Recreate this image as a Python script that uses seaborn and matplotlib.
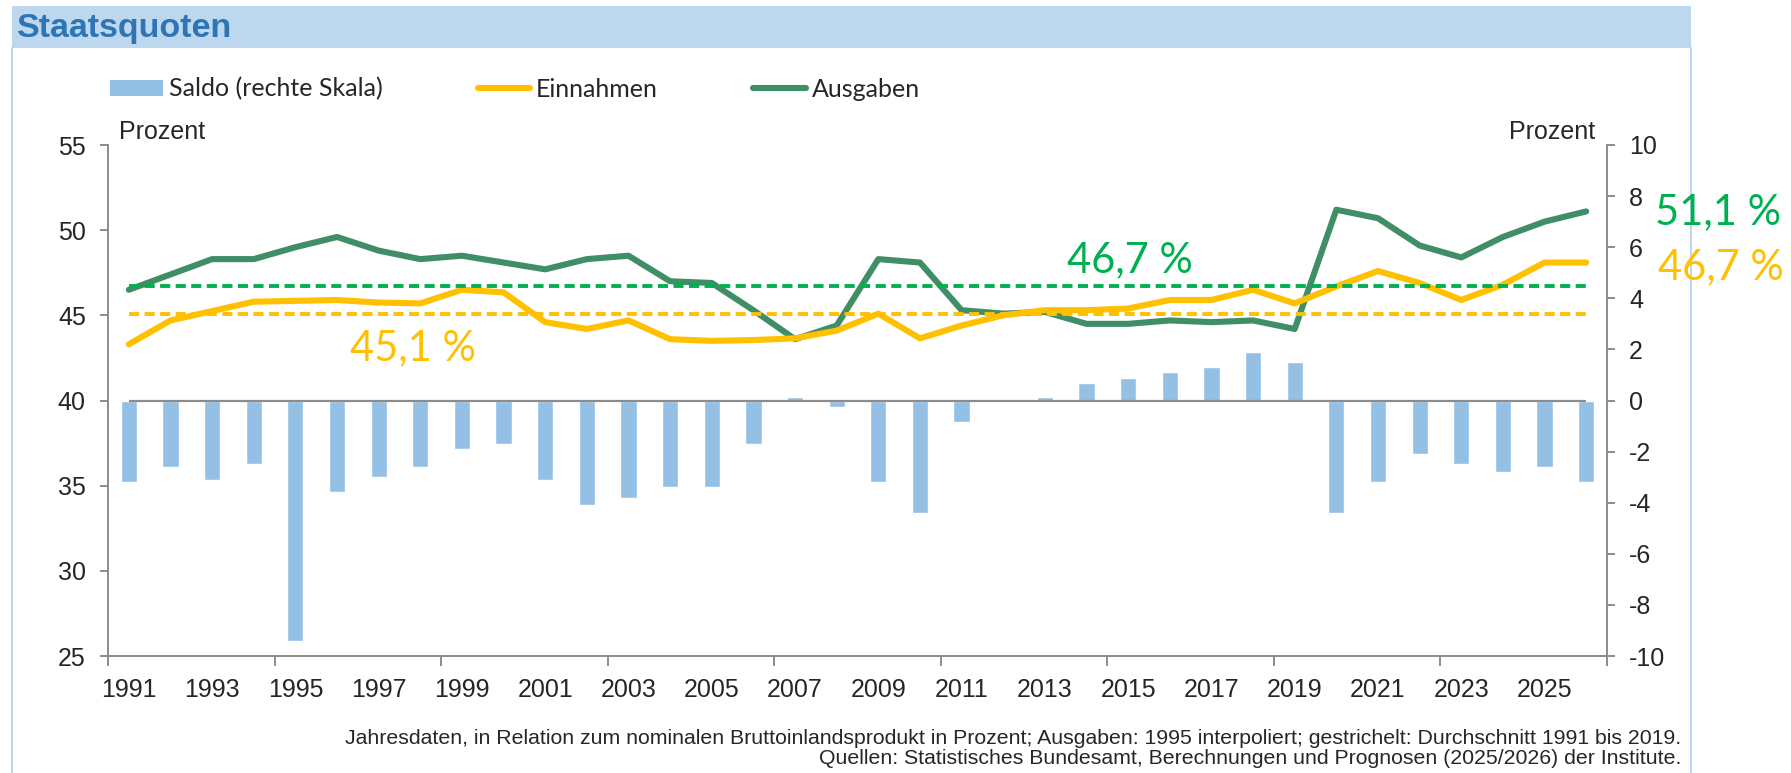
import numpy as np
import matplotlib
matplotlib.use("Agg")
import matplotlib.pyplot as plt
from matplotlib.lines import Line2D
from matplotlib.patches import Rectangle, Patch
import seaborn as sns

# Daten
years = list(range(1991, 2027))
einnahmen = [43.3, 44.7, 45.25, 45.8, 45.85, 45.9, 45.75, 45.7, 46.5, 46.35,
             44.6, 44.2, 44.7, 43.6, 43.5, 43.55, 43.65, 44.1, 45.1, 43.65,
             44.4, 45.0, 45.3, 45.3, 45.4, 45.9, 45.9, 46.5, 45.7, 46.7,
             47.6, 46.9, 45.9, 46.8, 48.1, 48.1]
ausgaben = [46.5, 47.4, 48.3, 48.3, 49.0, 49.6, 48.8, 48.3, 48.5, 48.1,
            47.7, 48.3, 48.5, 47.0, 46.9, 45.3, 43.6, 44.4, 48.3, 48.1,
            45.3, 45.1, 45.2, 44.5, 44.5, 44.7, 44.6, 44.7, 44.2, 51.2,
            50.7, 49.1, 48.4, 49.6, 50.5, 51.1]
saldo = [-3.2, -2.6, -3.1, -2.5, -9.4, -3.6, -3.0, -2.6, -1.9, -1.7,
         -3.1, -4.1, -3.8, -3.4, -3.4, -1.7, 0.15, -0.25, -3.2, -4.4,
         -0.85, -0.05, 0.12, 0.7, 0.9, 1.1, 1.3, 1.9, 1.5, -4.4,
         -3.2, -2.1, -2.5, -2.8, -2.6, -3.2]
avg_einnahmen = 45.1
avg_ausgaben = 46.7
left_ticks = [25, 30, 35, 40, 45, 50, 55]
right_ticks = [-10, -8, -6, -4, -2, 0, 2, 4, 6, 8, 10]
year_labels = years[::2]

C_BAR = "#95C0E5"
C_EIN = "#FFC000"
C_AUS = "#3F8E66"
C_AVG_AUS = "#00B050"
C_AXIS = "#8C8C8C"
C_FRAME = "#BDD7EE"
C_TITLE = "#2E75B6"

W, H = 1791, 773

sns.set_style("white")
plt.rcParams['font.family'] = ['Liberation Sans', 'DejaVu Sans']
plt.rcParams['axes.unicode_minus'] = False

fig = plt.figure(figsize=(W / 100, H / 100), dpi=100)

def fx(x):
    return x / W

def fy(y):
    return 1 - y / H

# Rahmen und Titelleiste
fig.patches.append(Rectangle((fx(12), fy(48)), fx(1691) - fx(12), fy(6) - fy(48),
                             transform=fig.transFigure, facecolor=C_FRAME, edgecolor="none"))
for xx in (12, 1691):
    fig.add_artist(Line2D([fx(xx), fx(xx)], [0, fy(48)], transform=fig.transFigure,
                          color=C_FRAME, lw=1.5))
fig.text(fx(17), fy(28), "Staatsquoten", fontsize=24.5, fontweight="bold",
         color=C_TITLE, va="center", ha="left")

ax = fig.add_axes([fx(108), fy(656), fx(1607) - fx(108), fy(145) - fy(656)])
ax2 = ax.twinx()

# Saldo (rechte Skala)
sns.barplot(x=years, y=saldo, ax=ax2, native_scale=True, color=C_BAR,
            saturation=1, width=0.39, errorbar=None, zorder=2)
ax2.hlines(0, years[0], years[-1], color=C_AXIS, lw=1.6, zorder=3)
ax2.set_ylim(-10, 10)
ax2.set_yticks(right_ticks)

# Linien (linke Skala)
ax.set_zorder(ax2.get_zorder() + 1)
ax.patch.set_visible(False)
sns.lineplot(x=years, y=ausgaben, ax=ax, color=C_AUS, lw=4.4, errorbar=None,
             solid_capstyle="round", solid_joinstyle="round")
sns.lineplot(x=years, y=einnahmen, ax=ax, color=C_EIN, lw=4.4, errorbar=None,
             solid_capstyle="round", solid_joinstyle="round")
ax.hlines(avg_ausgaben, years[0], years[-1], color=C_AVG_AUS, lw=2.8,
          linestyles=(0, (2.6, 1.4)))
ax.hlines(avg_einnahmen, years[0], years[-1], color=C_EIN, lw=2.8,
          linestyles=(0, (2.6, 1.4)))
ax.set_ylim(25, 55)
ax.set_yticks(left_ticks)
ax.set_xlim(years[0] - 0.5, years[-1] + 0.5)

# x-Achse: Striche alle 4 Jahre, Beschriftung alle 2 Jahre
ax.set_xticks(np.arange(years[0] - 0.5, years[-1] + 1, 4))
ax.set_xticklabels([])
ax.set_xticks(year_labels, minor=True)
ax.set_xticklabels([str(y) for y in year_labels], minor=True)
ax.tick_params(axis="x", which="major", direction="out", length=7, width=1.4,
               color=C_AXIS, bottom=True)
ax.tick_params(axis="x", which="minor", length=0, pad=16, labelsize=18)
ax.tick_params(axis="y", direction="out", length=6, width=1.4, color=C_AXIS,
               labelsize=18, pad=10, left=True)
ax2.tick_params(axis="y", direction="out", length=6, width=1.4, color=C_AXIS,
                labelsize=18, pad=10, right=True)
ax.set_xlabel("")
ax.set_ylabel("")
ax2.set_ylabel("")
ax.grid(False)
ax2.grid(False)

for a in (ax, ax2):
    for s in a.spines.values():
        s.set_visible(False)
ax.spines["left"].set_visible(True)
ax.spines["bottom"].set_visible(True)
ax2.spines["right"].set_visible(True)
for s in (ax.spines["left"], ax.spines["bottom"], ax2.spines["right"]):
    s.set_color(C_AXIS)
    s.set_linewidth(1.4)

fig.text(fx(119), fy(139), "Prozent", fontsize=18, ha="left", va="baseline")
fig.text(fx(1595), fy(139), "Prozent", fontsize=18, ha="right", va="baseline")

# Beschriftungen
lato = ["Lato", "DejaVu Sans"]
fig.text(fx(413), fy(348), "45,1 %", fontsize=30, color=C_EIN, ha="center",
         va="center", family=lato)
fig.text(fx(1130), fy(260), "46,7 %", fontsize=30, color=C_AVG_AUS, ha="center",
         va="center", family=lato)
fig.text(fx(1718), fy(212), "51,1 %", fontsize=30, color=C_AVG_AUS, ha="center",
         va="center", family=lato)
fig.text(fx(1721), fy(267), "46,7 %", fontsize=30, color=C_EIN, ha="center",
         va="center", family=lato)

# Legende
handles = [Patch(facecolor=C_BAR, edgecolor="none"),
           Line2D([], [], color=C_EIN, lw=4.4, solid_capstyle="round"),
           Line2D([], [], color=C_AUS, lw=4.4, solid_capstyle="round")]
labels = ["Saldo (rechte Skala)", "Einnahmen", "Ausgaben"]
fig.legend(handles, labels, loc="center left", bbox_to_anchor=(fx(110), fy(89)),
           ncol=3, frameon=False, borderpad=0, borderaxespad=0,
           handlelength=2.1, handleheight=0.6, handletextpad=0.25,
           columnspacing=3.8, prop={"family": lato, "size": 18})

# Fußnote
fig.text(fx(1681), fy(739),
         "Jahresdaten, in Relation zum nominalen Bruttoinlandsprodukt in Prozent; "
         "Ausgaben: 1995 interpoliert; gestrichelt: Durchschnitt 1991 bis 2019.",
         fontsize=15.3, ha="right", va="center")
fig.text(fx(1681), fy(759),
         "Quellen: Statistisches Bundesamt, Berechnungen und Prognosen (2025/2026) der Institute.",
         fontsize=15.3, ha="right", va="center")

fig.savefig("out.png", dpi=100)
